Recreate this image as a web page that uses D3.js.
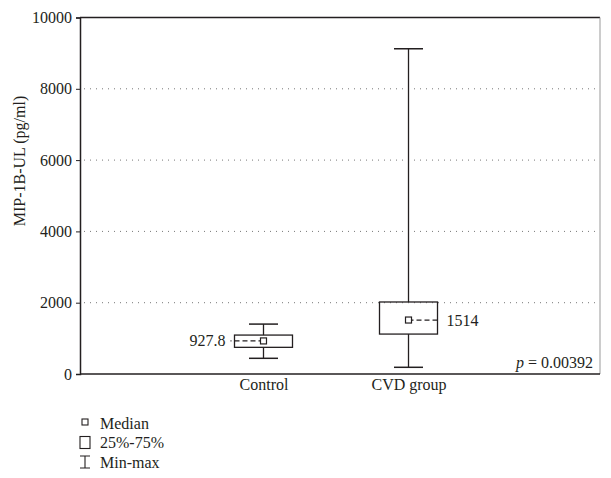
<!DOCTYPE html>
<html><head><meta charset="utf-8">
<script src="https://cdn.jsdelivr.net/npm/d3@7"></script>
<style>body{margin:0;background:#fff}svg{display:block}text{font-family:"Liberation Serif","DejaVu Serif",serif;fill:#231f20}</style>
</head><body><svg id="c" width="611" height="478"></svg>
<script>
const categories = ["Control", "CVD group"];
const minVals = [440, 188];
const q1Vals = [748, 1120];
const medianVals = [927.8, 1514];
const q3Vals = [1092, 2020];
const maxVals = [1400, 9123];
const medianLabels = ["927.8", "1514"];
const yTicks = [0, 2000, 4000, 6000, 8000, 10000];
const legendLabels = ["Median", "25%-75%", "Min-max"];
const pText = "= 0.00392";

const FS = 16;
const svg = d3.select("#c");
const L = 80, R = 600, T = 17.5, B = 374;
const y = d3.scaleLinear().domain([0, 10000]).range([B, T]);
const x = d3.scalePoint().domain(categories).range([L - 4, R - 4]).padding(1.293);
const ink = "#231f20";

// gridlines
svg.append("g").selectAll("line").data(yTicks.filter(d => d > 0 && d < 10000)).join("line")
  .attr("x1", L + 4).attr("x2", R - 2).attr("y1", d => y(d)).attr("y2", d => y(d))
  .attr("stroke", "#777").attr("stroke-width", 1).attr("stroke-dasharray", "1,5");

// frame top/right
svg.append("line").attr("x1", L).attr("x2", R).attr("y1", T).attr("y2", T).attr("stroke", ink).attr("stroke-width", 1.5);
svg.append("line").attr("x1", R).attr("x2", R).attr("y1", T).attr("y2", B).attr("stroke", "#999").attr("stroke-width", 1);

// y axis
const ya = svg.append("g").attr("transform", `translate(${L},0)`)
  .call(d3.axisLeft(y).tickValues(yTicks).tickSize(4).tickPadding(4).tickFormat(d3.format("d")));
ya.select(".domain").attr("stroke", ink).attr("stroke-width", 1.5);
ya.selectAll(".tick line").attr("stroke", ink);
ya.selectAll("text").attr("font-size", FS).style("fill", ink).attr("font-family", "Liberation Serif, serif");

// x axis
const xa = svg.append("g").attr("transform", `translate(0,${B})`)
  .call(d3.axisBottom(x).tickValues(categories).tickSize(0).tickPadding(5));
xa.select(".domain").attr("stroke", ink).attr("stroke-width", 1.5).attr("d", `M${L},0H${R}`);
xa.selectAll("text").attr("font-size", FS).style("fill", ink).attr("font-family", "Liberation Serif, serif");

// boxes
const bw = 58, cw = 29;
const g = svg.append("g");
categories.forEach((c, i) => {
  const cx = x(c);
  g.append("line").attr("x1", cx).attr("x2", cx).attr("y1", y(maxVals[i])).attr("y2", y(q3Vals[i])).attr("stroke", ink).attr("stroke-width", 1.3);
  g.append("line").attr("x1", cx).attr("x2", cx).attr("y1", y(q1Vals[i])).attr("y2", y(minVals[i])).attr("stroke", ink).attr("stroke-width", 1.3);
  [maxVals[i], minVals[i]].forEach(v => g.append("line").attr("x1", cx - cw / 2).attr("x2", cx + cw / 2).attr("y1", y(v)).attr("y2", y(v)).attr("stroke", ink).attr("stroke-width", 1.5));
  g.append("rect").attr("x", cx - bw / 2).attr("width", bw).attr("y", y(q3Vals[i])).attr("height", y(q1Vals[i]) - y(q3Vals[i]))
    .attr("fill", "none").attr("stroke", ink).attr("stroke-width", 1.3);
  const my = y(medianVals[i]);
  const left = i === 0;
  const dx2 = left ? cx - bw / 2 - 4 : cx + bw / 2 + 3;
  g.append("line").attr("x1", cx).attr("x2", dx2).attr("y1", my).attr("y2", my).attr("stroke", ink).attr("stroke-width", 1.2).attr("stroke-dasharray", "5,3");
  g.append("rect").attr("x", cx - 3).attr("y", my - 3).attr("width", 6).attr("height", 6).attr("fill", "#fff").attr("stroke", ink).attr("stroke-width", 1.2);
  g.append("text").attr("x", left ? dx2 - 5 : dx2 + 6).attr("y", my + 5.5).attr("text-anchor", left ? "end" : "start").attr("font-size", FS).text(medianLabels[i]);
});

// y title
svg.append("text").attr("transform", `translate(25,161) rotate(-90)`).attr("text-anchor", "middle").attr("font-size", FS).text("MIP-1B-UL (pg/ml)");

// p value
const pt = svg.append("text").attr("x", R - 7).attr("y", 368).attr("text-anchor", "end").attr("font-size", FS);
pt.append("tspan").attr("font-style", "italic").text("p");
pt.append("tspan").text(" " + pText);

// legend
const lg = svg.append("g");
const ly = [423, 442.5, 462];
lg.append("rect").attr("x", 82).attr("y", ly[0] - 4).attr("width", 6).attr("height", 6).attr("fill", "none").attr("stroke", ink).attr("stroke-width", 1.1);
lg.append("rect").attr("x", 80).attr("y", ly[1] - 6).attr("width", 10).attr("height", 12).attr("fill", "none").attr("stroke", ink).attr("stroke-width", 1.1);
lg.append("path").attr("d", `M80,${ly[2] - 6}H90M85,${ly[2] - 6}V${ly[2] + 6}M80,${ly[2] + 6}H90`).attr("fill", "none").attr("stroke", ink).attr("stroke-width", 1.1);
lg.selectAll("text").data(legendLabels).join("text").attr("x", 100).attr("y", (d, i) => ly[i] + 5.5).attr("font-size", FS).text(d => d);
</script></body></html>
